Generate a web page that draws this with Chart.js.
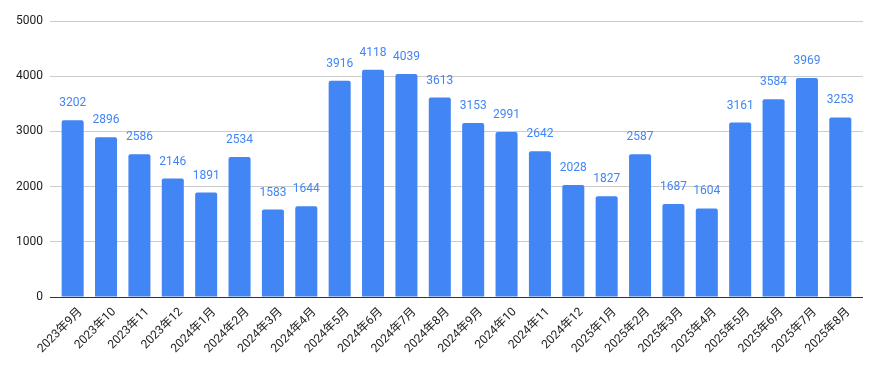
<!DOCTYPE html>
<html>
<head>
<meta charset="utf-8">
<script src="https://cdn.jsdelivr.net/npm/chart.js@4.4.1/dist/chart.umd.min.js"></script>
<style>
  html, body { margin: 0; padding: 0; background: #fff; }
  #wrap { width: 882px; height: 371px; position: relative; }
</style>
</head>
<body>
<div id="wrap"><canvas id="barChart"></canvas></div>
<script>
const months = ["2023年9月", "2023年10", "2023年11", "2023年12", "2024年1月", "2024年2月", "2024年3月", "2024年4月",
  "2024年5月", "2024年6月", "2024年7月", "2024年8月", "2024年9月", "2024年10", "2024年11", "2024年12",
  "2025年1月", "2025年2月", "2025年3月", "2025年4月", "2025年5月", "2025年6月", "2025年7月", "2025年8月"];
const counts = [3202, 2896, 2586, 2146, 1891, 2534, 1583, 1644, 3916, 4118, 4039, 3613,
  3153, 2991, 2642, 2028, 1827, 2587, 1687, 1604, 3161, 3584, 3969, 3253];
const yTicks = [0, 1000, 2000, 3000, 4000, 5000];

const fontFam = "Roboto, 'Noto Sans CJK JP', sans-serif";

// draw the value above each bar
const valueLabels = {
  id: 'valueLabels',
  afterDatasetsDraw(chart) {
    const ctx = chart.ctx;
    const meta = chart.getDatasetMeta(0);
    ctx.save();
    ctx.font = "12px " + fontFam;
    ctx.fillStyle = "#4285f4";
    ctx.textAlign = "center";
    ctx.textBaseline = "bottom";
    meta.data.forEach(function(bar, i) {
      ctx.fillText(counts[i], bar.x, bar.y - 11);
    });
    ctx.restore();
  }
};

// gridlines run a few px past the bars on both sides, zero line is dark
const gridOpts = {
  color: c => (c.tick && c.tick.value === 0) ? "#333333" : "#cccccc",
  drawTicks: true,
  tickLength: 6
};

let barChart = new Chart(document.getElementById('barChart'), {
  type: 'bar',
  data: {
    labels: months,
    datasets: [{
      data: counts,
      backgroundColor: "#4285f4",
      borderRadius: 2,
      borderSkipped: 'bottom',
      categoryPercentage: 0.66,
      barPercentage: 1.0
    }]
  },
  options: {
    responsive: true,
    maintainAspectRatio: false,
    animation: false,
    layout: { padding: { top: 21, right: 19, left: 9, bottom: 7 } },
    plugins: { legend: { display: false }, tooltip: { enabled: false } },
    scales: {
      x: {
        grid: { display: false, drawTicks: false },
        border: { color: "#333333", width: 1 },
        ticks: {
          color: "#222222",
          font: { family: fontFam, size: 12 },
          minRotation: 45, maxRotation: 45,
          autoSkip: false,
          labelOffset: 8,
          padding: 8
        }
      },
      y: {
        min: 0, max: 5000,
        afterBuildTicks(axis) { axis.ticks = yTicks.map(v => ({ value: v })); },
        grid: gridOpts,
        border: { display: false },
        ticks: {
          color: "#222222",
          font: { family: fontFam, size: 12 },
          padding: 7,
          callback: v => String(v)
        }
      },
      y2: {
        position: 'right',
        min: 0, max: 5000,
        afterBuildTicks(axis) { axis.ticks = yTicks.map(v => ({ value: v })); },
        grid: gridOpts,
        border: { display: false },
        ticks: { display: false }
      }
    }
  },
  plugins: [valueLabels]
});
</script>
</body>
</html>
